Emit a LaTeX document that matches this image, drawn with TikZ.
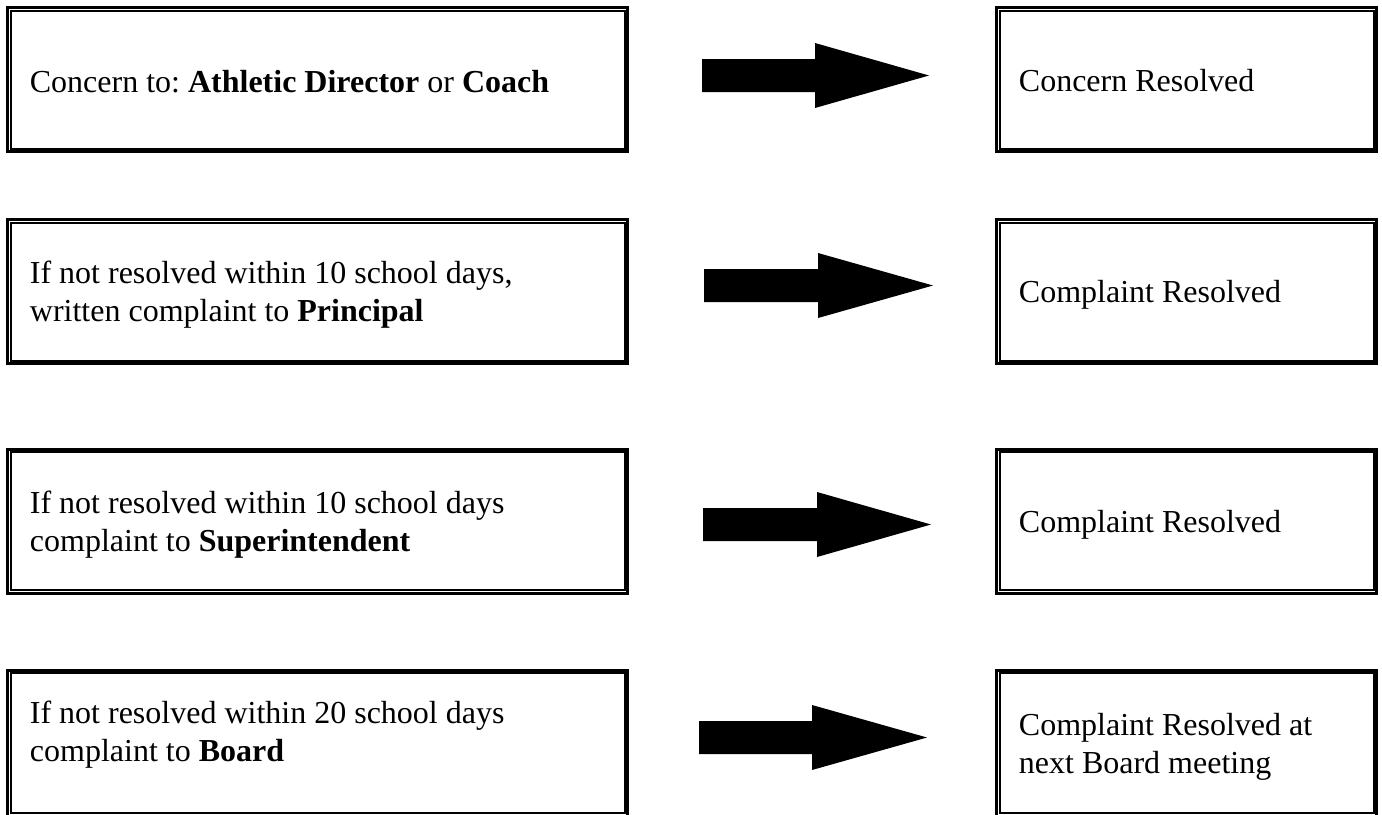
\documentclass[tikz,border=0pt]{standalone}
\usepackage{fontspec}
\setmainfont{Liberation Serif}
\usetikzlibrary{positioning}

% text face used in the boxes
\newcommand{\boxfont}{\fontsize{12}{14.5}\selectfont\frenchspacing}

\tikzset{
  % thick outer frame with a thin frame just inside it
  framed/.style={draw, rectangle, line width=1.125pt, minimum height=54pt,
    inner xsep=8.4pt, align=flush left, font=\boxfont,
    append after command={\pgfextra{\draw[line width=0.75pt]
      ([shift={(1.6875pt,-1.6875pt)}]\tikzlastnode.north west) rectangle
      ([shift={(-1.6875pt,1.6875pt)}]\tikzlastnode.south east);}}},
  stepbox/.style={framed, minimum width=232.5pt, text width=215.7pt},
  resultbox/.style={framed, minimum width=142.5pt, text width=125.7pt},
  % first baseline sits #1 px below the centre of the box
  textdrop/.code={%
    \pgfmathsetlengthmacro\dropht{20pt+#1*0.375pt}%
    \pgfmathsetlengthmacro\dropdp{20pt-#1*0.375pt}%
    \tikzset{text height/.expanded=\dropht, text depth/.expanded=\dropdp}},
  blockarrow/.style={fill=black}
}

\begin{document}
\begin{tikzpicture}[x=0.375pt, y=-0.375pt]
  \useasboundingbox (0,0) rectangle (1382,814);

  % steps of the complaint procedure
  \node[stepbox, textdrop=12.5] (step1) at (317.5,79.5) {Concern to: \textbf{Athletic Director} or \textbf{Coach}};
  \node[stepbox, textdrop=-8.5] (step2) at (317.5,291.5) {If not resolved within 10 school days,\\written complaint to \textbf{Principal}};
  \node[stepbox, textdrop=-8] (step3) at (317.5,521) {If not resolved within 10 school days\\complaint to \textbf{Superintendent}};
  \node[stepbox, textdrop=-20, minimum height=54.75pt] (step4) at (317.5,743) {If not resolved within 20 school days\\complaint to \textbf{Board}};

  % outcomes
  \node[resultbox, textdrop=11.5] (done1) at (1186.5,79.5) {Concern Resolved};
  \node[resultbox, textdrop=10.5] (done2) at (1186.5,291.5) {Complaint Resolved};
  \node[resultbox, textdrop=11] (done3) at (1186.5,521) {Complaint Resolved};
  \node[resultbox, textdrop=-8, minimum height=54.75pt] (done4) at (1186.5,743) {Complaint Resolved at\\next Board meeting};

  % block arrows between them
  \fill[blockarrow] (702,59) -- ++(113,0) -- ++(0,-16) -- ++(114,32.5) -- ++(-114,32.5) -- ++(0,-16) -- ++(-113,0) -- cycle;
  \fill[blockarrow] (704,269) -- ++(114,0) -- ++(0,-16) -- ++(115,32.5) -- ++(-115,32.5) -- ++(0,-16) -- ++(-114,0) -- cycle;
  \fill[blockarrow] (703,508) -- ++(114,0) -- ++(0,-16) -- ++(114,32.5) -- ++(-114,32.5) -- ++(0,-16) -- ++(-114,0) -- cycle;
  \fill[blockarrow] (699,721) -- ++(113,0) -- ++(0,-16) -- ++(115,32.5) -- ++(-115,32.5) -- ++(0,-16) -- ++(-113,0) -- cycle;

\end{tikzpicture}
\end{document}
